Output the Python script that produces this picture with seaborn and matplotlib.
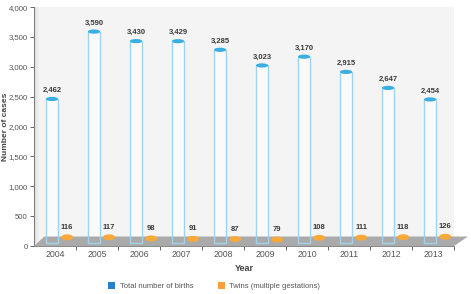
import matplotlib
matplotlib.use("Agg")
import matplotlib.pyplot as plt
from matplotlib.patches import Ellipse, Polygon, Patch, Rectangle
from matplotlib.ticker import FuncFormatter, FixedLocator
import numpy as np
import pandas as pd
import seaborn as sns

years = ["2004", "2005", "2006", "2007", "2008", "2009", "2010", "2011", "2012", "2013"]
births = [2462, 3590, 3430, 3429, 3285, 3023, 3170, 2915, 2647, 2454]
twins = [116, 117, 98, 91, 87, 79, 108, 111, 118, 126]
series = ["Total number of births", "Twins (multiple gestations)"]

df = pd.DataFrame({
    "Year": years * 2,
    "cases": births + twins,
    "series": [series[0]] * len(years) + [series[1]] * len(years),
})

sns.set_style("white")
plt.rcParams["font.family"] = ["Liberation Sans", "DejaVu Sans"]

fig = plt.figure(figsize=(4.71, 2.94), dpi=100)
ax = fig.add_axes([0.072, 0.163, 0.892, 0.813])
ax.set_facecolor("#f4f4f4")

sns.barplot(data=df, x="Year", y="cases", hue="series", order=years,
            hue_order=series, width=0.62, dodge=True, ax=ax, legend=False,
            palette=["white", "#fcd9a8"], zorder=3)

n = len(years)
bars = list(ax.patches[:2 * n])
for i, p in enumerate(bars):
    p.set_x(p.get_x() + (0.1 if i < n else 0.15))
    p.set_width(0.28)
    p.set_edgecolor("none")
    p.set_facecolor("#fafafa" if i < n else "#fcd9a8")

# floor (drawn over bar faces) and left wall
floor = Polygon([(-0.5, 0), (9.5, 0), (9.83, 160), (-0.25, 160)],
                closed=True, facecolor="#aaaaaa", edgecolor="none",
                zorder=3.5, clip_on=False)
ax.add_patch(floor)
grad = np.linspace(0.86, 0.95, 50).reshape(1, -1)
ax.imshow(grad, extent=(-0.5, -0.4, 0, 4000), aspect="auto", cmap="gray",
          vmin=0, vmax=1, zorder=0.5)
ax.set_xlim(-0.5, 9.5)
ax.set_ylim(0, 4000)

# outlines, caps and labels
for i, p in enumerate(bars):
    cx = p.get_x() + p.get_width() / 2
    h = p.get_y() + p.get_height()
    if i < n:
        ax.add_patch(Rectangle((p.get_x(), 50), p.get_width(), h - 50,
                               fill=False, edgecolor="#9fd4ee", lw=1.0,
                               zorder=3.8))
        ax.add_patch(Ellipse((cx, h), 0.29, 70, facecolor="#3aaee0",
                             edgecolor="none", zorder=4))
        ax.annotate(f"{births[i]:,}", (cx, h), xytext=(0, 3.5),
                    textcoords="offset points", ha="center", va="bottom",
                    fontsize=5.5, fontweight="bold", color="#3a3a3a")
    else:
        ax.add_patch(Ellipse((cx, h + 30), 0.29, 100, facecolor="#f8a93c",
                             edgecolor="none", zorder=4))
        ax.annotate(f"{twins[i - n]:,}", (cx, h), xytext=(0, 6),
                    textcoords="offset points", ha="center", va="bottom",
                    fontsize=5.5, fontweight="bold", color="#3a3a3a")

ax.yaxis.set_major_locator(FixedLocator(np.arange(0, 4001, 500)))
ax.yaxis.set_major_formatter(FuncFormatter(lambda v, _: f"{int(v):,}"))
ax.tick_params(axis="y", labelsize=5.6, labelcolor="#555555", length=3,
               color="#666666", width=0.7, direction="out", left=True, pad=1.5)
ax.set_xticks(range(n))
ax.set_xticklabels(years)
ax.xaxis.set_minor_locator(FixedLocator(np.arange(0.5, 9.6, 1.0)))
ax.tick_params(axis="x", which="major", length=0, labelsize=6.3,
               labelcolor="#555555", pad=2.5)
ax.tick_params(axis="x", which="minor", length=3, color="#666666",
               width=0.7, bottom=True)

for s in ["top", "right"]:
    ax.spines[s].set_visible(False)
ax.spines["left"].set_color("#777777")
ax.spines["left"].set_linewidth(0.7)
ax.spines["bottom"].set_color("#888888")
ax.spines["bottom"].set_linewidth(0.7)
ax.spines["bottom"].set_zorder(5)

ax.set_xlabel("Year", fontsize=6.5, fontweight="bold", color="#444444", labelpad=4)
ax.set_ylabel("Number of cases", fontsize=6, fontweight="bold",
              color="#444444")
ax.yaxis.set_label_coords(-0.059, 0.5)

handles = [Patch(facecolor="#2b7fc7", edgecolor="none"),
           Patch(facecolor="#f7a03a", edgecolor="none")]
fig.legend(handles, series, loc="lower center", bbox_to_anchor=(0.455, -0.01),
           ncol=2, frameon=False, fontsize=5.5, handlelength=0.9,
           handleheight=0.9, columnspacing=3.2, handletextpad=0.6,
           labelcolor="#555555")

fig.savefig("out.png", dpi=100)
